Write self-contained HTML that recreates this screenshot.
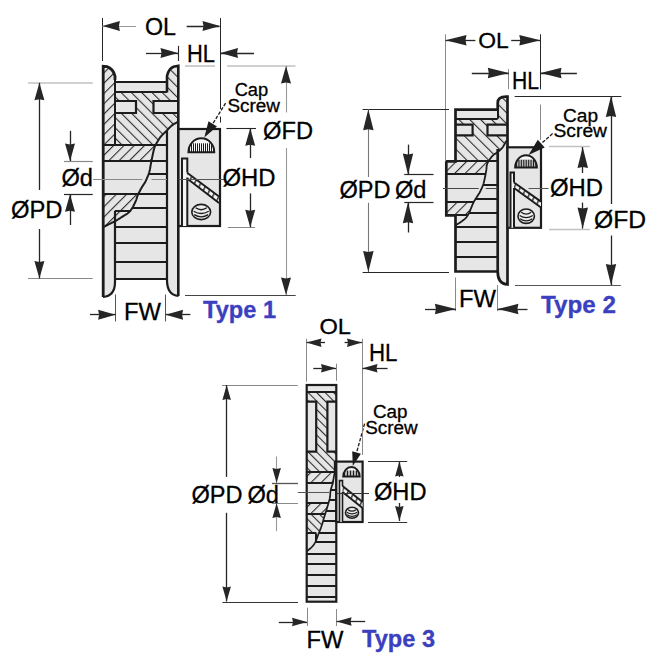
<!DOCTYPE html>
<html><head><meta charset="utf-8"><style>
html,body{margin:0;padding:0;background:#fff;width:670px;height:670px;overflow:hidden}
svg{display:block}
</style></head><body>
<svg width="670" height="670" viewBox="0 0 670 670" style='font-family:"Liberation Sans",sans-serif'>
<defs>
<pattern id="h45_1" width="7.28" height="7.28" patternUnits="userSpaceOnUse" patternTransform="translate(1.0,0) rotate(45)"><rect width="7.28" height="7.28" fill="#e6e6e6"/><line x1="0.5" y1="0" x2="0.5" y2="7.28" stroke="#2a2a2a" stroke-width="1.15"/></pattern>
<pattern id="h135_1" width="7.28" height="7.28" patternUnits="userSpaceOnUse" patternTransform="translate(-3.1,0) rotate(-45)"><rect width="7.28" height="7.28" fill="#e6e6e6"/><line x1="0.5" y1="0" x2="0.5" y2="7.28" stroke="#2a2a2a" stroke-width="1.15"/></pattern>
<pattern id="h45_2" width="7.35" height="7.35" patternUnits="userSpaceOnUse" patternTransform="translate(3.7,0) rotate(45)"><rect width="7.35" height="7.35" fill="#e6e6e6"/><line x1="0.5" y1="0" x2="0.5" y2="7.35" stroke="#2a2a2a" stroke-width="1.15"/></pattern>
<pattern id="h135_2" width="7.7" height="7.7" patternUnits="userSpaceOnUse" patternTransform="translate(1.0,0) rotate(-45)"><rect width="7.7" height="7.7" fill="#e6e6e6"/><line x1="0.5" y1="0" x2="0.5" y2="7.7" stroke="#2a2a2a" stroke-width="1.15"/></pattern>
<pattern id="h45_3" width="7.28" height="7.28" patternUnits="userSpaceOnUse" patternTransform="translate(0,0) rotate(45)"><rect width="7.28" height="7.28" fill="#e6e6e6"/><line x1="0.5" y1="0" x2="0.5" y2="7.28" stroke="#2a2a2a" stroke-width="1.15"/></pattern>
<pattern id="h135_3" width="6.0" height="6.0" patternUnits="userSpaceOnUse" patternTransform="translate(-0.3,0) rotate(-45)"><rect width="6.0" height="6.0" fill="#e6e6e6"/><line x1="0.5" y1="0" x2="0.5" y2="6.0" stroke="#2a2a2a" stroke-width="1.15"/></pattern>
<pattern id="hb" width="5.5" height="5.5" patternUnits="userSpaceOnUse" patternTransform="rotate(25)"><line x1="0.8" y1="0" x2="0.8" y2="5.5" stroke="#2a2a2a" stroke-width="1.4"/></pattern>
</defs>
<path d="M103,297 L103,66.3 L107,66.6 Q113,68.5 115,76 L115,82 L167,82 L167,76 Q168.5,69 173.5,66.8 L178.3,65.8 L178.5,129 L220,129 L220,226 L178.5,226 L178.5,296 Q167,295 167,280 L115,280 Q115,296 103,297 Z" fill="#e6e6e6" stroke="none" stroke-width="2.2" />
<path d="M103,66.3 L107,66.6 Q113,68.5 115,76 L115,144.6 L155.75,144.60 L155.51,145.08 L155.19,145.74 L154.89,146.45 L154.60,147.20 L154.33,148.00 L154.09,148.83 L153.86,149.69 L153.64,150.57 L153.44,151.49 L153.23,152.44 L153.02,153.41 L152.80,154.40 L152.58,155.43 L152.35,156.50 L152.12,157.61 L151.90,158.74 L151.68,159.88 L151.45,161.03 L151.40,161.30 L103,161.3 Z" fill="url(#h45_1)" stroke="none"/>
<path d="M103,194 L138.32,194.00 L137.96,194.79 L137.60,195.60 L137.30,196.34 L137.07,197.01 L136.87,197.64 L136.70,198.25 L136.53,198.86 L136.33,199.49 L136.10,200.16 L135.80,200.90 L135.44,201.73 L135.03,202.63 L134.58,203.58 L134.11,204.55 L133.63,205.51 L133.14,206.45 L132.66,207.32 L132.20,208.10 L131.76,208.80 L131.34,209.44 L130.92,210.03 L130.51,210.58 L130.07,211.10 L129.62,211.61 L129.13,212.10 L128.60,212.60 L128.03,213.08 L127.44,213.52 L126.82,213.94 L126.17,214.35 L125.50,214.76 L124.80,215.18 L124.07,215.62 L123.30,216.10 L122.49,216.62 L121.63,217.18 L120.73,217.75 L119.81,218.34 L118.88,218.93 L117.94,219.51 L117.01,220.07 L116.10,220.60 L115.20,221.10 L114.29,221.58 L113.37,222.04 L112.46,222.49 L111.56,222.93 L110.68,223.36 L109.82,223.78 L109.00,224.20 L108.17,224.62 L107.32,225.06 L106.47,225.50 L105.66,225.92 L104.89,226.32 L104.21,226.67 L103.64,226.97 L103.20,227.20 Z" fill="url(#h45_1)" stroke="none"/>
<path d="M115,92.5 L167,92.5 L167,76 Q168.5,69 173.5,66.8 L178.3,65.8 L178.50,120.50 L178.41,120.62 L178.32,120.76 L178.22,120.93 L178.09,121.13 L177.91,121.36 L177.68,121.61 L177.38,121.89 L177.00,122.20 L176.51,122.54 L175.92,122.90 L175.26,123.30 L174.54,123.72 L173.80,124.17 L173.04,124.65 L172.30,125.16 L171.60,125.70 L170.92,126.28 L170.25,126.92 L169.57,127.59 L168.89,128.28 L168.22,128.99 L167.54,129.71 L166.87,130.41 L166.20,131.10 L165.52,131.78 L164.83,132.45 L164.13,133.12 L163.44,133.80 L162.76,134.47 L162.10,135.15 L161.48,135.82 L160.90,136.50 L160.36,137.18 L159.86,137.85 L159.39,138.53 L158.94,139.21 L158.51,139.88 L158.10,140.56 L157.70,141.23 L157.30,141.90 L156.91,142.55 L156.54,143.19 L156.18,143.81 L155.84,144.44 L155.75,144.60 L115,144.6 Z" fill="url(#h135_1)" stroke="none"/>
<rect x="115" y="101" width="21" height="12" fill="#e6e6e6" stroke="none" stroke-width="0"/>
<rect x="153.5" y="101" width="25" height="12" fill="#e6e6e6" stroke="none" stroke-width="0"/>
<path d="M103.2,297 L103.2,66.3 L107,66.6 Q113,68.5 115,76 L115,80" fill="none" stroke="#1c1c1c" stroke-width="2.8" />
<line x1="115.0" y1="80" x2="115.0" y2="144.6" stroke="#1c1c1c" stroke-width="2"/>
<path d="M115,210.8 L115,282 Q115,296 103,297" fill="none" stroke="#1c1c1c" stroke-width="2.2" />
<path d="M178.3,296 L178.3,65.8 L173.5,66.8 Q168.5,69 167,76 L167,92.5" fill="none" stroke="#1c1c1c" stroke-width="2.6" />
<path d="M167,131 L167,280 Q167,295 178.5,296" fill="none" stroke="#1c1c1c" stroke-width="2.2" />
<line x1="115" y1="82.0" x2="167" y2="82.0" stroke="#1c1c1c" stroke-width="2.0"/>
<line x1="115" y1="92.0" x2="167" y2="92.0" stroke="#1c1c1c" stroke-width="2.0"/>
<path d="M115,101 H136 V113 H115" fill="none" stroke="#1c1c1c" stroke-width="2.2" />
<path d="M178.5,101 H153.5 V113 H178.5" fill="none" stroke="#1c1c1c" stroke-width="2.2" />
<line x1="103" y1="145.0" x2="167" y2="145.0" stroke="#1c1c1c" stroke-width="2.0"/>
<line x1="103" y1="161.0" x2="167" y2="161.0" stroke="#1c1c1c" stroke-width="2.0"/>
<line x1="103" y1="194.0" x2="167" y2="194.0" stroke="#1c1c1c" stroke-width="2.0"/>
<line x1="115" y1="211.0" x2="130.32572101922713" y2="211.0" stroke="#1c1c1c" stroke-width="2.0"/>
<line x1="132.074486229554" y1="208.0" x2="167" y2="208.0" stroke="#1c1c1c" stroke-width="2.0"/>
<line x1="148.53957674726587" y1="174.0" x2="167" y2="174.0" stroke="#1c1c1c" stroke-width="2.0"/>
<line x1="115" y1="227.0" x2="167" y2="227.0" stroke="#1c1c1c" stroke-width="2.0"/>
<line x1="115" y1="243.0" x2="167" y2="243.0" stroke="#1c1c1c" stroke-width="2.0"/>
<line x1="115" y1="262.0" x2="167" y2="262.0" stroke="#1c1c1c" stroke-width="2.0"/>
<line x1="115" y1="279.0" x2="167" y2="279.0" stroke="#1c1c1c" stroke-width="2.0"/>
<path d="M178.50,120.50 L178.41,120.62 L178.32,120.76 L178.22,120.93 L178.09,121.13 L177.91,121.36 L177.68,121.61 L177.38,121.89 L177.00,122.20 L176.51,122.54 L175.92,122.90 L175.26,123.30 L174.54,123.72 L173.80,124.17 L173.04,124.65 L172.30,125.16 L171.60,125.70 L170.92,126.28 L170.25,126.92 L169.57,127.59 L168.89,128.28 L168.22,128.99 L167.54,129.71 L166.87,130.41 L166.20,131.10 L165.52,131.78 L164.83,132.45 L164.13,133.12 L163.44,133.80 L162.76,134.47 L162.10,135.15 L161.48,135.82 L160.90,136.50 L160.36,137.18 L159.86,137.85 L159.39,138.53 L158.94,139.21 L158.51,139.88 L158.10,140.56 L157.70,141.23 L157.30,141.90 L156.91,142.55 L156.54,143.19 L156.18,143.81 L155.84,144.44 L155.51,145.08 L155.19,145.74 L154.89,146.45 L154.60,147.20 L154.33,148.00 L154.09,148.83 L153.86,149.69 L153.64,150.57 L153.44,151.49 L153.23,152.44 L153.02,153.41 L152.80,154.40 L152.58,155.43 L152.35,156.50 L152.12,157.61 L151.90,158.74 L151.68,159.88 L151.45,161.03 L151.23,162.17 L151.00,163.30 L150.79,164.42 L150.59,165.55 L150.40,166.67 L150.21,167.80 L150.01,168.93 L149.78,170.05 L149.51,171.18 L149.20,172.30 L148.84,173.43 L148.45,174.57 L148.02,175.72 L147.56,176.86 L147.09,177.99 L146.60,179.10 L146.10,180.17 L145.60,181.20 L145.08,182.18 L144.54,183.12 L143.97,184.02 L143.40,184.91 L142.83,185.77 L142.26,186.64 L141.72,187.51 L141.20,188.40 L140.70,189.31 L140.20,190.24 L139.71,191.18 L139.24,192.12 L138.78,193.04 L138.35,193.93 L137.96,194.79 L137.60,195.60 L137.30,196.34 L137.07,197.01 L136.87,197.64 L136.70,198.25 L136.53,198.86 L136.33,199.49 L136.10,200.16 L135.80,200.90 L135.44,201.73 L135.03,202.63 L134.58,203.58 L134.11,204.55 L133.63,205.51 L133.14,206.45 L132.66,207.32 L132.20,208.10 L131.76,208.80 L131.34,209.44 L130.92,210.03 L130.51,210.58 L130.07,211.10 L129.62,211.61 L129.13,212.10 L128.60,212.60 L128.03,213.08 L127.44,213.52 L126.82,213.94 L126.17,214.35 L125.50,214.76 L124.80,215.18 L124.07,215.62 L123.30,216.10 L122.49,216.62 L121.63,217.18 L120.73,217.75 L119.81,218.34 L118.88,218.93 L117.94,219.51 L117.01,220.07 L116.10,220.60 L115.20,221.10 L114.29,221.58 L113.37,222.04 L112.46,222.49 L111.56,222.93 L110.68,223.36 L109.82,223.78 L109.00,224.20 L108.17,224.62 L107.32,225.06 L106.47,225.50 L105.66,225.92 L104.89,226.32 L104.21,226.67 L103.64,226.97 L103.20,227.20" fill="none" stroke="#1c1c1c" stroke-width="2.0" />
<line x1="93" y1="179.5" x2="142.5041611662418" y2="179.5" stroke="#8a8a8a" stroke-width="1"/>
<line x1="151.5041611662418" y1="179.5" x2="167" y2="179.5" stroke="#8a8a8a" stroke-width="1"/>
<rect x="178.5" y="129" width="41.5" height="97" fill="#e6e6e6" stroke="#1c1c1c" stroke-width="2.2"/>
<path d="M188.4,152.2 A12.95,13.899999999999977 0 0 1 214.29999999999998,152.2 Z" fill="#f6f6f6" stroke="#1c1c1c" stroke-width="1.9"/>
<clipPath id="cp201"><path d="M188.4,152.2 A12.95,13.899999999999977 0 0 1 214.29999999999998,152.2 Z"/></clipPath>
<path d="M189.50,152.2 V143.30M191.50,152.2 V143.30M193.50,152.2 V143.30M195.50,152.2 V143.30M197.50,152.2 V143.30M199.50,152.2 V143.30M201.50,152.2 V143.30M203.50,152.2 V143.30M205.50,152.2 V143.30M207.50,152.2 V143.30M209.50,152.2 V143.30M211.50,152.2 V143.30M213.50,152.2 V143.30" stroke="#1c1c1c" stroke-width="1.0" clip-path="url(#cp201)"/>
<rect x="182" y="158.6" width="5.3" height="67.4" fill="#f3f3f3"/>
<path d="M187.1,172.8 L219,196.6 L219,203 L187.1,178.6 Z" fill="#f2f2f2" stroke="none"/>
<path d="M187.1,172.8 L219,196.6 L219,203 L187.1,178.6 Z" fill="url(#hb)" stroke="none"/>
<path d="M187.1,172.8 L219,196.6 M187.1,178.6 L219,203" stroke="#1c1c1c" stroke-width="1.9"/>
<path d="M182,226 V158.6 H187.3 V172.4 M187.3,177.6 V226" fill="none" stroke="#1c1c1c" stroke-width="2" />
<line x1="93" y1="179.5" x2="141" y2="179.5" stroke="#8a8a8a" stroke-width="1"/>
<ellipse cx="201.2" cy="212" rx="9.4" ry="7.6" fill="#ededed" stroke="#1c1c1c" stroke-width="1.6"/>
<path d="M193.67999999999998,211.24 Q201.2,215.8 208.72,211.24" fill="none" stroke="#1c1c1c" stroke-width="1.3"/>
<path d="M194.14999999999998,214.66 Q201.2,219.22 208.25,214.66" fill="none" stroke="#1c1c1c" stroke-width="1.3"/>
<path d="M195.56,207.82 Q201.2,211.62 206.83999999999997,207.82" fill="none" stroke="#1c1c1c" stroke-width="1.3"/>
<line x1="178.5" y1="179.5" x2="224" y2="179.5" stroke="#555" stroke-width="1"/>
<line x1="225.6" y1="103.2" x2="212.7" y2="123.9" stroke="#1c1c1c" stroke-width="1.3" stroke-dasharray="3.5,1.5"/>
<polygon points="204.3,137.5 208.5,121.3 217.0,126.5" fill="#1c1c1c"/>
<line x1="102.5" y1="18" x2="102.5" y2="61" stroke="#262626" stroke-width="1"/>
<line x1="220.5" y1="18" x2="220.5" y2="109" stroke="#262626" stroke-width="1"/>
<line x1="220.5" y1="116.6" x2="220.5" y2="122.6" stroke="#262626" stroke-width="1"/>
<line x1="102.4" y1="26.5" x2="136" y2="26.5" stroke="#999" stroke-width="1.2"/>
<polygon points="102.4,26.0 119.9,21.0 118.9,26.0 119.9,31.0" fill="#262626"/>
<line x1="186.7" y1="26.5" x2="219.5" y2="26.5" stroke="#262626" stroke-width="1.3"/>
<polygon points="220.0,26.0 202.5,21.0 203.5,26.0 202.5,31.0" fill="#262626"/>
<text x="145" y="34.5" font-size="23" fill="#000" stroke="#000" stroke-width="0.3" textLength="31" lengthAdjust="spacingAndGlyphs">OL</text>
<line x1="178.5" y1="45.8" x2="178.5" y2="61" stroke="#262626" stroke-width="1.1"/>
<line x1="146" y1="53.5" x2="178" y2="53.5" stroke="#262626" stroke-width="1.3"/>
<polygon points="178.0,53.0 160.5,48.0 161.5,53.0 160.5,58.0" fill="#262626"/>
<line x1="220.5" y1="53.5" x2="254" y2="53.5" stroke="#262626" stroke-width="1.3"/>
<polygon points="220.5,53.0 238.0,48.0 237.0,53.0 238.0,58.0" fill="#262626"/>
<text x="187" y="61.5" font-size="23" fill="#000" stroke="#000" stroke-width="0.3" textLength="28" lengthAdjust="spacingAndGlyphs">HL</text>
<line x1="185" y1="66.0" x2="215" y2="66.0" stroke="#c2c2c2" stroke-width="1.6"/>
<line x1="227" y1="66.0" x2="295.5" y2="66.0" stroke="#c2c2c2" stroke-width="1.6"/>
<line x1="286.5" y1="66" x2="286.5" y2="112.5" stroke="#9a9a9a" stroke-width="1.1"/>
<line x1="286.5" y1="148" x2="286.5" y2="295" stroke="#9a9a9a" stroke-width="1.1"/>
<polygon points="286.0,66.0 281.0,83.5 286.0,82.5 291.0,83.5" fill="#262626"/>
<polygon points="286.0,295.0 281.0,277.5 286.0,278.5 291.0,277.5" fill="#262626"/>
<line x1="185" y1="295.5" x2="295.7" y2="295.5" stroke="#444" stroke-width="1.1"/>
<text x="263" y="138.5" font-size="23" fill="#000" stroke="#000" stroke-width="0.3" textLength="50" lengthAdjust="spacingAndGlyphs">ØFD</text>
<line x1="226.4" y1="128.5" x2="256" y2="128.5" stroke="#262626" stroke-width="1.1"/>
<line x1="227.8" y1="227.5" x2="255" y2="227.5" stroke="#8a8a8a" stroke-width="1"/>
<line x1="250.5" y1="128.3" x2="250.5" y2="158" stroke="#262626" stroke-width="1.3"/>
<line x1="250.5" y1="193.4" x2="250.5" y2="227.3" stroke="#262626" stroke-width="1.3"/>
<polygon points="250.2,128.3 245.2,145.8 250.2,144.8 255.2,145.8" fill="#262626"/>
<polygon points="250.2,227.3 245.2,209.8 250.2,210.8 255.2,209.8" fill="#262626"/>
<text x="222.5" y="185.5" font-size="23" fill="#000" stroke="#000" stroke-width="0.3" textLength="53" lengthAdjust="spacingAndGlyphs">ØHD</text>
<text x="234.7" y="96" font-size="18" fill="#000" stroke="#000" stroke-width="0.3" textLength="33.5" lengthAdjust="spacingAndGlyphs">Cap</text>
<text x="227.5" y="111.5" font-size="18" fill="#000" stroke="#000" stroke-width="0.3" textLength="52.5" lengthAdjust="spacingAndGlyphs">Screw</text>
<line x1="28" y1="83.0" x2="92.8" y2="83.0" stroke="#c2c2c2" stroke-width="1.6"/>
<line x1="28" y1="278.5" x2="92.7" y2="278.5" stroke="#8a8a8a" stroke-width="1"/>
<line x1="39.5" y1="82.8" x2="39.5" y2="190" stroke="#262626" stroke-width="1.3"/>
<line x1="39.5" y1="229" x2="39.5" y2="278.4" stroke="#262626" stroke-width="1.3"/>
<polygon points="39.4,82.8 34.4,100.3 39.4,99.3 44.4,100.3" fill="#262626"/>
<polygon points="39.4,278.4 34.4,260.9 39.4,261.9 44.4,260.9" fill="#262626"/>
<text x="11" y="217.6" font-size="23" fill="#000" stroke="#000" stroke-width="0.3" textLength="51.5" lengthAdjust="spacingAndGlyphs">ØPD</text>
<line x1="64" y1="161.5" x2="92.8" y2="161.5" stroke="#8a8a8a" stroke-width="1.2"/>
<line x1="64" y1="194.5" x2="92.7" y2="194.5" stroke="#262626" stroke-width="1.2"/>
<line x1="70.5" y1="130.8" x2="70.5" y2="161" stroke="#262626" stroke-width="1.3"/>
<polygon points="70.0,161.0 65.0,143.5 70.0,144.5 75.0,143.5" fill="#262626"/>
<line x1="70.5" y1="194.3" x2="70.5" y2="225" stroke="#262626" stroke-width="1.3"/>
<polygon points="70.0,194.3 65.0,211.8 70.0,210.8 75.0,211.8" fill="#262626"/>
<text x="61.5" y="186.2" font-size="23" fill="#000" stroke="#000" stroke-width="0.3" textLength="31.5" lengthAdjust="spacingAndGlyphs">Ød</text>
<line x1="115.5" y1="294.5" x2="115.5" y2="321.4" stroke="#555" stroke-width="1"/>
<line x1="165.5" y1="294.5" x2="165.5" y2="321.4" stroke="#555" stroke-width="1"/>
<line x1="90" y1="314.5" x2="115.6" y2="314.5" stroke="#262626" stroke-width="1.3"/>
<polygon points="115.6,314.7 98.1,309.7 99.1,314.7 98.1,319.7" fill="#262626"/>
<line x1="165.6" y1="314.5" x2="190.4" y2="314.5" stroke="#262626" stroke-width="1.3"/>
<polygon points="165.6,314.7 183.1,309.7 182.1,314.7 183.1,319.7" fill="#262626"/>
<text x="124" y="320" font-size="23" fill="#000" stroke="#000" stroke-width="0.3" textLength="37" lengthAdjust="spacingAndGlyphs">FW</text>
<text x="203" y="317.8" font-size="23" font-weight="bold" fill="#3b40bf" stroke="#3b40bf" stroke-width="0.3" textLength="73" lengthAdjust="spacingAndGlyphs">Type 1</text>
<path d="M455.5,109.7 L497.7,109.7 L497.7,103 Q497.7,96.6 506,96.6 L507.5,96.6 L507.5,147.3 L541,147.3 L541,227.8 L507.5,227.8 L507.5,284.5 Q497.7,284 497.7,271.5 L455.5,271.5 L455.5,215.5 L446.3,215.5 L446.3,161 L455.5,161 Z" fill="#e6e6e6" stroke="none" stroke-width="2.2" />
<path d="M455.5,118.7 L497.7,118.7 L497.7,103 Q497.7,96.6 506,96.6 L507.5,96.6 L507.50,140.50 L507.38,140.57 L507.23,140.64 L507.05,140.71 L506.84,140.81 L506.61,140.96 L506.36,141.16 L506.09,141.43 L505.80,141.80 L505.49,142.28 L505.16,142.88 L504.81,143.56 L504.44,144.29 L504.04,145.05 L503.62,145.80 L503.17,146.53 L502.70,147.20 L502.19,147.83 L501.64,148.46 L501.05,149.08 L500.45,149.69 L499.83,150.28 L499.21,150.85 L498.60,151.39 L498.00,151.90 L497.41,152.36 L496.81,152.77 L496.20,153.14 L495.60,153.50 L495.00,153.86 L494.42,154.23 L493.85,154.64 L493.30,155.10 L492.76,155.62 L492.23,156.17 L491.71,156.75 L491.21,157.36 L490.72,157.97 L490.25,158.59 L489.81,159.20 L489.40,159.80 L489.02,160.38 L488.66,160.94 L488.44,161.30 L455.5,161.3 Z" fill="url(#h135_2)" stroke="none"/>
<path d="M446.3,161.3 L488.44,161.30 L488.32,161.49 L488.01,162.05 L487.72,162.62 L487.45,163.21 L487.21,163.84 L487.00,164.50 L486.83,165.20 L486.70,165.93 L486.61,166.68 L486.54,167.46 L486.48,168.26 L486.41,169.08 L486.32,169.93 L486.20,170.80 L486.05,171.71 L485.88,172.68 L485.69,173.68 L485.65,173.90 L446.3,173.9 Z" fill="url(#h45_2)" stroke="none"/>
<path d="M446.3,202.1 L473.70,202.10 L473.70,202.10 L473.33,202.83 L472.99,203.53 L472.69,204.22 L472.40,204.90 L472.13,205.57 L471.86,206.24 L471.58,206.92 L471.30,207.60 L471.01,208.29 L470.74,208.99 L470.47,209.70 L470.19,210.40 L469.92,211.10 L469.63,211.78 L469.33,212.45 L469.00,213.10 L468.66,213.73 L468.32,214.35 L467.97,214.96 L467.69,215.40 L446.3,215.4 Z" fill="url(#h45_2)" stroke="none"/>
<rect x="455.5" y="124.6" width="17" height="10.8" fill="#e6e6e6" stroke="none" stroke-width="0"/>
<rect x="487.5" y="124.6" width="20" height="10.8" fill="#e6e6e6" stroke="none" stroke-width="0"/>
<path d="M446.3,161.3 H455.5 V109.7 H497.7 V103 Q497.7,96.6 506,96.6 L507.5,96.6 V284.5 Q497.7,284 497.7,271.5 V149" fill="none" stroke="#1c1c1c" stroke-width="2.7" />
<path d="M455.5,215.4 H446.3 V161.3" fill="none" stroke="#1c1c1c" stroke-width="2.7" />
<path d="M455.5,215.4 V271.5 H497.7" fill="none" stroke="#1c1c1c" stroke-width="2.7" />
<line x1="455.5" y1="119.0" x2="497.7" y2="119.0" stroke="#1c1c1c" stroke-width="2.0"/>
<line x1="498.0" y1="109.7" x2="498.0" y2="118.7" stroke="#1c1c1c" stroke-width="2.0"/>
<path d="M455.5,124.6 H472.6 V135.4 H455.5" fill="none" stroke="#1c1c1c" stroke-width="2.2" />
<path d="M507.5,124.6 H487.5 V135.4 H507.5" fill="none" stroke="#1c1c1c" stroke-width="2.2" />
<line x1="446.3" y1="161.0" x2="497.7" y2="161.0" stroke="#1c1c1c" stroke-width="2.0"/>
<line x1="446.3" y1="174.0" x2="485.6516580410198" y2="174.0" stroke="#1c1c1c" stroke-width="2.0"/>
<line x1="446.3" y1="202.0" x2="473.7" y2="202.0" stroke="#1c1c1c" stroke-width="2.0"/>
<line x1="446.3" y1="215.0" x2="467.6925657894737" y2="215.0" stroke="#1c1c1c" stroke-width="2.0"/>
<line x1="483.1" y1="185.0" x2="497.7" y2="185.0" stroke="#1c1c1c" stroke-width="2.0"/>
<line x1="475.5551696096655" y1="199.0" x2="497.7" y2="199.0" stroke="#1c1c1c" stroke-width="2.0"/>
<line x1="469.0" y1="213.0" x2="497.7" y2="213.0" stroke="#1c1c1c" stroke-width="2.0"/>
<line x1="455.5" y1="227.0" x2="497.7" y2="227.0" stroke="#1c1c1c" stroke-width="2.0"/>
<line x1="455.5" y1="242.0" x2="497.7" y2="242.0" stroke="#1c1c1c" stroke-width="2.0"/>
<line x1="455.5" y1="257.0" x2="497.7" y2="257.0" stroke="#1c1c1c" stroke-width="2.0"/>
<path d="M507.50,140.50 L507.38,140.57 L507.23,140.64 L507.05,140.71 L506.84,140.81 L506.61,140.96 L506.36,141.16 L506.09,141.43 L505.80,141.80 L505.49,142.28 L505.16,142.88 L504.81,143.56 L504.44,144.29 L504.04,145.05 L503.62,145.80 L503.17,146.53 L502.70,147.20 L502.19,147.83 L501.64,148.46 L501.05,149.08 L500.45,149.69 L499.83,150.28 L499.21,150.85 L498.60,151.39 L498.00,151.90 L497.41,152.36 L496.81,152.77 L496.20,153.14 L495.60,153.50 L495.00,153.86 L494.42,154.23 L493.85,154.64 L493.30,155.10 L492.76,155.62 L492.23,156.17 L491.71,156.75 L491.21,157.36 L490.72,157.97 L490.25,158.59 L489.81,159.20 L489.40,159.80 L489.02,160.38 L488.66,160.94 L488.32,161.49 L488.01,162.05 L487.72,162.62 L487.45,163.21 L487.21,163.84 L487.00,164.50 L486.83,165.20 L486.70,165.93 L486.61,166.68 L486.54,167.46 L486.48,168.26 L486.41,169.08 L486.32,169.93 L486.20,170.80 L486.05,171.71 L485.88,172.68 L485.69,173.68 L485.50,174.70 L485.30,175.72 L485.10,176.72 L484.90,177.69 L484.70,178.60 L484.52,179.45 L484.34,180.26 L484.17,181.04 L484.00,181.80 L483.81,182.55 L483.61,183.31 L483.37,184.09 L483.10,184.90 L482.78,185.76 L482.41,186.67 L482.02,187.61 L481.60,188.55 L481.18,189.47 L480.76,190.35 L480.36,191.17 L480.00,191.90 L479.68,192.52 L479.39,193.04 L479.11,193.48 L478.85,193.89 L478.58,194.30 L478.29,194.73 L477.97,195.22 L477.60,195.80 L477.17,196.48 L476.70,197.23 L476.18,198.02 L475.65,198.85 L475.12,199.69 L474.60,200.53 L474.13,201.33 L473.70,202.10 L473.33,202.83 L472.99,203.53 L472.69,204.22 L472.40,204.90 L472.13,205.57 L471.86,206.24 L471.58,206.92 L471.30,207.60 L471.01,208.29 L470.74,208.99 L470.47,209.70 L470.19,210.40 L469.92,211.10 L469.63,211.78 L469.33,212.45 L469.00,213.10 L468.66,213.73 L468.32,214.35 L467.97,214.96 L467.60,215.55 L467.21,216.13 L466.81,216.70 L466.37,217.26 L465.90,217.80 L465.40,218.33 L464.86,218.84 L464.30,219.34 L463.71,219.83 L463.11,220.30 L462.48,220.77 L461.85,221.24 L461.20,221.70 L460.50,222.18 L459.71,222.69 L458.89,223.20 L458.06,223.69 L457.26,224.16 L456.55,224.58 L455.95,224.93 L455.50,225.20" fill="none" stroke="#1c1c1c" stroke-width="1.8" />
<line x1="443" y1="188.5" x2="478.71079368377315" y2="188.5" stroke="#444" stroke-width="1"/>
<line x1="485.71079368377315" y1="188.5" x2="497.7" y2="188.5" stroke="#444" stroke-width="1"/>
<rect x="507.5" y="147.3" width="33.5" height="80.5" fill="#e6e6e6" stroke="#1c1c1c" stroke-width="2.2"/>
<path d="M515.1,167.5 A10.9,12.199999999999989 0 0 1 536.9,167.5 Z" fill="#f6f6f6" stroke="#1c1c1c" stroke-width="1.9"/>
<clipPath id="cp526"><path d="M515.1,167.5 A10.9,12.199999999999989 0 0 1 536.9,167.5 Z"/></clipPath>
<path d="M516.50,167.5 V159.69M518.20,167.5 V159.69M519.90,167.5 V159.69M521.60,167.5 V159.69M523.30,167.5 V159.69M525.00,167.5 V159.69M526.70,167.5 V159.69M528.40,167.5 V159.69M530.10,167.5 V159.69M531.80,167.5 V159.69M533.50,167.5 V159.69M535.20,167.5 V159.69" stroke="#1c1c1c" stroke-width="1.0" clip-path="url(#cp526)"/>
<rect x="510.5" y="172.4" width="3.5" height="55.4" fill="#f3f3f3"/>
<path d="M514,182.5 L541,201.6 L541,207.5 L514,188 Z" fill="#f2f2f2" stroke="none"/>
<path d="M514,182.5 L541,201.6 L541,207.5 L514,188 Z" fill="url(#hb)" stroke="none"/>
<path d="M514,182.5 L541,201.6 M514,188 L541,207.5" stroke="#1c1c1c" stroke-width="1.9"/>
<path d="M510.5,227.8 V172.4 H514 V182.5 M514,188 V227.8" fill="none" stroke="#1c1c1c" stroke-width="2" />
<ellipse cx="526.2" cy="216.2" rx="8.2" ry="7.2" fill="#ededed" stroke="#1c1c1c" stroke-width="1.6"/>
<path d="M519.6400000000001,215.48 Q526.2,219.79999999999998 532.76,215.48" fill="none" stroke="#1c1c1c" stroke-width="1.3"/>
<path d="M520.0500000000001,218.72 Q526.2,223.04 532.35,218.72" fill="none" stroke="#1c1c1c" stroke-width="1.3"/>
<path d="M521.2800000000001,212.23999999999998 Q526.2,215.83999999999997 531.12,212.23999999999998" fill="none" stroke="#1c1c1c" stroke-width="1.3"/>
<line x1="528.5" y1="188.5" x2="548.5" y2="188.5" stroke="#555" stroke-width="1"/>
<line x1="552.6" y1="133.6" x2="541.2" y2="143.6" stroke="#1c1c1c" stroke-width="1.3" stroke-dasharray="3.5,1.5"/>
<polygon points="528.5,154.9 537.8,139.7 544.7,147.6" fill="#1c1c1c"/>
<line x1="445.5" y1="34.3" x2="445.5" y2="161" stroke="#8a8a8a" stroke-width="1"/>
<line x1="540.5" y1="34.3" x2="540.5" y2="89.3" stroke="#262626" stroke-width="1"/>
<line x1="540.5" y1="104.5" x2="540.5" y2="140" stroke="#8a8a8a" stroke-width="1"/>
<line x1="445.5" y1="40.5" x2="475.4" y2="40.5" stroke="#262626" stroke-width="1.3"/>
<polygon points="445.5,40.3 466.5,35.0 465.5,40.3 466.5,45.5" fill="#262626"/>
<line x1="511.2" y1="40.5" x2="540.3" y2="40.5" stroke="#262626" stroke-width="1.3"/>
<polygon points="540.3,40.3 519.3,35.0 520.3,40.3 519.3,45.5" fill="#262626"/>
<text x="478.3" y="48.2" font-size="22.5" fill="#000" stroke="#000" stroke-width="0.3" textLength="30.5" lengthAdjust="spacingAndGlyphs">OL</text>
<line x1="508.5" y1="69" x2="508.5" y2="89.3" stroke="#8a8a8a" stroke-width="1"/>
<line x1="471.8" y1="73.5" x2="508.8" y2="73.5" stroke="#262626" stroke-width="1.3"/>
<polygon points="508.8,73.0 487.8,67.8 488.8,73.0 487.8,78.2" fill="#262626"/>
<line x1="540.5" y1="73.5" x2="576.9" y2="73.5" stroke="#262626" stroke-width="1.3"/>
<polygon points="540.5,73.0 561.5,67.8 560.5,73.0 561.5,78.2" fill="#262626"/>
<text x="512" y="89.3" font-size="23" fill="#000" stroke="#000" stroke-width="0.3" textLength="27" lengthAdjust="spacingAndGlyphs">HL</text>
<line x1="514.7" y1="96.5" x2="621.3" y2="96.5" stroke="#262626" stroke-width="1.2"/>
<line x1="515" y1="285.5" x2="620.8" y2="285.5" stroke="#555" stroke-width="1.1"/>
<line x1="611.5" y1="96" x2="611.5" y2="204" stroke="#262626" stroke-width="1.3"/>
<line x1="611.5" y1="235.5" x2="611.5" y2="285" stroke="#262626" stroke-width="1.3"/>
<polygon points="611.0,96.0 605.8,117.0 611.0,116.0 616.2,117.0" fill="#262626"/>
<polygon points="611.0,285.0 605.8,264.0 611.0,265.0 616.2,264.0" fill="#262626"/>
<text x="594" y="227.6" font-size="23" fill="#000" stroke="#000" stroke-width="0.3" textLength="52" lengthAdjust="spacingAndGlyphs">ØFD</text>
<line x1="549" y1="146.5" x2="590" y2="146.5" stroke="#c2c2c2" stroke-width="1.5"/>
<line x1="549" y1="229.5" x2="590" y2="229.5" stroke="#c2c2c2" stroke-width="1.5"/>
<line x1="582.5" y1="147" x2="582.5" y2="173" stroke="#262626" stroke-width="1.3"/>
<line x1="582.5" y1="202.6" x2="582.5" y2="228.6" stroke="#262626" stroke-width="1.3"/>
<polygon points="582.7,147.0 577.5,168.0 582.7,167.0 588.0,168.0" fill="#262626"/>
<polygon points="582.7,228.6 577.5,207.6 582.7,208.6 588.0,207.6" fill="#262626"/>
<text x="550" y="196.3" font-size="23" fill="#000" stroke="#000" stroke-width="0.3" textLength="53" lengthAdjust="spacingAndGlyphs">ØHD</text>
<text x="563" y="122" font-size="18" fill="#000" stroke="#000" stroke-width="0.3" textLength="35" lengthAdjust="spacingAndGlyphs">Cap</text>
<text x="553.5" y="136.7" font-size="18" fill="#000" stroke="#000" stroke-width="0.3" textLength="53.5" lengthAdjust="spacingAndGlyphs">Screw</text>
<line x1="362.6" y1="109.5" x2="449" y2="109.5" stroke="#262626" stroke-width="1.2"/>
<line x1="362.6" y1="272.5" x2="449" y2="272.5" stroke="#262626" stroke-width="1.2"/>
<line x1="368.5" y1="109.2" x2="368.5" y2="177" stroke="#777" stroke-width="1.1"/>
<line x1="368.5" y1="202.8" x2="368.5" y2="272" stroke="#777" stroke-width="1.1"/>
<polygon points="368.3,109.2 363.1,130.2 368.3,129.2 373.6,130.2" fill="#262626"/>
<polygon points="368.3,272.0 363.1,251.0 368.3,252.0 373.6,251.0" fill="#262626"/>
<text x="339.5" y="197.7" font-size="23" fill="#000" stroke="#000" stroke-width="0.3" textLength="51" lengthAdjust="spacingAndGlyphs">ØPD</text>
<line x1="404.3" y1="174.5" x2="433.5" y2="174.5" stroke="#262626" stroke-width="1.2"/>
<line x1="404.3" y1="202.5" x2="433.5" y2="202.5" stroke="#262626" stroke-width="1.2"/>
<line x1="408.5" y1="144.6" x2="408.5" y2="174.4" stroke="#262626" stroke-width="1.3"/>
<polygon points="408.0,174.4 402.8,153.4 408.0,154.4 413.2,153.4" fill="#262626"/>
<line x1="408.5" y1="202.2" x2="408.5" y2="232.5" stroke="#262626" stroke-width="1.3"/>
<polygon points="408.0,202.2 402.8,223.2 408.0,222.2 413.2,223.2" fill="#262626"/>
<text x="395" y="197.7" font-size="23" fill="#000" stroke="#000" stroke-width="0.3" textLength="31.5" lengthAdjust="spacingAndGlyphs">Ød</text>
<line x1="455.5" y1="277.5" x2="455.5" y2="311" stroke="#8a8a8a" stroke-width="1"/>
<line x1="497.5" y1="285" x2="497.5" y2="311" stroke="#8a8a8a" stroke-width="1"/>
<line x1="425" y1="309.5" x2="455.9" y2="309.5" stroke="#262626" stroke-width="1.3"/>
<polygon points="455.9,309.0 434.9,303.8 435.9,309.0 434.9,314.2" fill="#262626"/>
<line x1="497.4" y1="309.5" x2="527.5" y2="309.5" stroke="#262626" stroke-width="1.3"/>
<polygon points="497.4,309.0 518.4,303.8 517.4,309.0 518.4,314.2" fill="#262626"/>
<text x="459" y="307.3" font-size="23" fill="#000" stroke="#000" stroke-width="0.3" textLength="37" lengthAdjust="spacingAndGlyphs">FW</text>
<text x="541" y="312.8" font-size="23" font-weight="bold" fill="#3b40bf" stroke="#3b40bf" stroke-width="0.3" textLength="75" lengthAdjust="spacingAndGlyphs">Type 2</text>
<path d="M306.7,385 H336.3 V461.6 H362.6 V522 H336.3 V601.7 H306.7 Z" fill="#e6e6e6" stroke="none" stroke-width="2.2" />
<path d="M306.7,391.5 H336.3 V461.6 H334.7 V472.3 H306.7 Z" fill="url(#h135_3)" stroke="none"/>
<path d="M306.7,472.3 L334.70,472.30 L334.60,472.83 L334.47,473.56 L334.32,474.43 L334.14,475.38 L333.97,476.37 L333.79,477.34 L333.63,478.23 L333.50,479.00 L333.39,479.65 L333.31,480.23 L333.24,480.76 L333.17,481.26 L333.11,481.75 L333.03,482.24 L332.93,482.75 L332.80,483.30 L332.80,483.30 H306.7 Z" fill="url(#h45_3)" stroke="none"/>
<path d="M306.7,502.6 L328.63,502.60 L328.55,502.89 L328.27,503.87 L327.96,504.91 L327.63,506.00 L327.29,507.12 L326.96,508.23 L326.62,509.34 L326.30,510.40 L325.99,511.43 L325.68,512.46 L325.36,513.49 L325.33,513.60 H306.7 Z" fill="url(#h45_3)" stroke="none"/>
<path d="M306.7,513.6 L325.33,513.60 L325.05,514.51 L324.74,515.53 L324.43,516.55 L324.11,517.58 L323.80,518.60 L323.49,519.62 L323.19,520.65 L322.89,521.68 L322.59,522.70 L322.29,523.73 L321.97,524.75 L321.65,525.77 L321.30,526.80 L320.93,527.84 L320.53,528.89 L320.12,529.95 L319.70,531.00 L319.28,532.04 L318.87,533.06 L318.47,534.05 L318.10,535.00 L317.76,535.91 L317.44,536.80 L317.15,537.67 L316.86,538.51 L316.57,539.32 L316.26,540.11 L315.95,540.87 L315.60,541.60 L315.24,542.29 L314.89,542.94 L314.52,543.56 L314.14,544.16 L313.74,544.74 L313.31,545.31 L312.83,545.90 L312.30,546.50 L311.67,547.15 L310.93,547.84 L310.12,548.55 L309.29,549.26 L308.49,549.92 L307.76,550.52 L307.15,551.02 L306.70,551.40 Z" fill="url(#h135_3)" stroke="none"/>
<path d="M306.7,533.4 H316.4 L318.73,533.40 L318.47,534.05 L318.10,535.00 L317.76,535.91 L317.44,536.80 L317.15,537.67 L316.86,538.51 L316.57,539.32 L316.26,540.11 L315.95,540.87 L315.60,541.60 L315.24,542.29 L314.89,542.94 L314.52,543.56 L314.14,544.16 L313.74,544.74 L313.31,545.31 L312.83,545.90 L312.30,546.50 L311.67,547.15 L310.93,547.84 L310.12,548.55 L309.29,549.26 L308.49,549.92 L307.76,550.52 L307.15,551.02 L306.70,551.40 Z" fill="#e6e6e6"/>
<rect x="306.7" y="401.6" width="9.6" height="50.1" fill="#e6e6e6" stroke="none" stroke-width="0"/>
<rect x="327.4" y="401.6" width="8.9" height="50.1" fill="#e6e6e6" stroke="none" stroke-width="0"/>
<rect x="306.7" y="385" width="29.6" height="216.7" fill="none" stroke="#1c1c1c" stroke-width="2.2"/>
<line x1="306.7" y1="392.0" x2="336.3" y2="392.0" stroke="#1c1c1c" stroke-width="2.0"/>
<path d="M306.7,401.6 H316.2 V451.7 H306.7" fill="none" stroke="#1c1c1c" stroke-width="2.2" />
<path d="M336.3,401.6 H327.4 V451.7 H336.3" fill="none" stroke="#1c1c1c" stroke-width="2.2" />
<line x1="306.7" y1="472.0" x2="334.7" y2="472.0" stroke="#1c1c1c" stroke-width="2.0"/>
<line x1="306.7" y1="483.0" x2="332.8" y2="483.0" stroke="#1c1c1c" stroke-width="2.0"/>
<line x1="306.7" y1="503.0" x2="328.631010989011" y2="503.0" stroke="#1c1c1c" stroke-width="2.0"/>
<line x1="306.7" y1="514.0" x2="325.3287855642543" y2="514.0" stroke="#1c1c1c" stroke-width="2.0"/>
<line x1="330.70348220207825" y1="490.0" x2="336.3" y2="490.0" stroke="#1c1c1c" stroke-width="2.0"/>
<line x1="329.3471239618579" y1="500.0" x2="336.3" y2="500.0" stroke="#1c1c1c" stroke-width="2.0"/>
<line x1="326.08855956201626" y1="511.0" x2="336.3" y2="511.0" stroke="#1c1c1c" stroke-width="2.0"/>
<line x1="323.08960080030494" y1="521.0" x2="336.3" y2="521.0" stroke="#1c1c1c" stroke-width="2.0"/>
<line x1="318.81214948657185" y1="533.0" x2="336.3" y2="533.0" stroke="#1c1c1c" stroke-width="2.0"/>
<line x1="315.2381345677623" y1="542.0" x2="336.3" y2="542.0" stroke="#1c1c1c" stroke-width="2.0"/>
<line x1="306.7" y1="554.0" x2="336.3" y2="554.0" stroke="#1c1c1c" stroke-width="2.0"/>
<line x1="306.7" y1="533.0" x2="316.4" y2="533.0" stroke="#1c1c1c" stroke-width="2.0"/>
<line x1="316.0" y1="533.4" x2="316.0" y2="541" stroke="#1c1c1c" stroke-width="2.0"/>
<line x1="306.7" y1="564.0" x2="336.3" y2="564.0" stroke="#1c1c1c" stroke-width="2.0"/>
<line x1="306.7" y1="575.0" x2="336.3" y2="575.0" stroke="#1c1c1c" stroke-width="2.0"/>
<line x1="306.7" y1="586.0" x2="336.3" y2="586.0" stroke="#1c1c1c" stroke-width="2.0"/>
<line x1="306.7" y1="597.0" x2="336.3" y2="597.0" stroke="#1c1c1c" stroke-width="2.0"/>
<path d="M336.3,461.6 H334.7 V472.3 L334.70,472.30 L334.60,472.83 L334.47,473.56 L334.32,474.43 L334.14,475.38 L333.97,476.37 L333.79,477.34 L333.63,478.23 L333.50,479.00 L333.39,479.65 L333.31,480.23 L333.24,480.76 L333.17,481.26 L333.11,481.75 L333.03,482.24 L332.93,482.75 L332.80,483.30 L332.64,483.89 L332.44,484.51 L332.23,485.14 L332.01,485.78 L331.78,486.42 L331.56,487.04 L331.37,487.64 L331.20,488.20 L331.06,488.72 L330.93,489.20 L330.82,489.65 L330.72,490.09 L330.64,490.54 L330.55,490.99 L330.48,491.48 L330.40,492.00 L330.34,492.57 L330.29,493.17 L330.26,493.79 L330.22,494.43 L330.19,495.07 L330.15,495.72 L330.09,496.37 L330.00,497.00 L329.90,497.60 L329.79,498.17 L329.67,498.73 L329.53,499.29 L329.38,499.88 L329.21,500.51 L329.02,501.21 L328.80,502.00 L328.55,502.89 L328.27,503.87 L327.96,504.91 L327.63,506.00 L327.29,507.12 L326.96,508.23 L326.62,509.34 L326.30,510.40 L325.99,511.43 L325.68,512.46 L325.36,513.49 L325.05,514.51 L324.74,515.53 L324.43,516.55 L324.11,517.58 L323.80,518.60 L323.49,519.62 L323.19,520.65 L322.89,521.68 L322.59,522.70 L322.29,523.73 L321.97,524.75 L321.65,525.77 L321.30,526.80 L320.93,527.84 L320.53,528.89 L320.12,529.95 L319.70,531.00 L319.28,532.04 L318.87,533.06 L318.47,534.05 L318.10,535.00 L317.76,535.91 L317.44,536.80 L317.15,537.67 L316.86,538.51 L316.57,539.32 L316.26,540.11 L315.95,540.87 L315.60,541.60 L315.24,542.29 L314.89,542.94 L314.52,543.56 L314.14,544.16 L313.74,544.74 L313.31,545.31 L312.83,545.90 L312.30,546.50 L311.67,547.15 L310.93,547.84 L310.12,548.55 L309.29,549.26 L308.49,549.92 L307.76,550.52 L307.15,551.02 L306.70,551.40" fill="none" stroke="#1c1c1c" stroke-width="1.7" />
<line x1="297.8" y1="492.5" x2="329.3439091534755" y2="492.5" stroke="#555" stroke-width="1"/>
<rect x="336.3" y="461.6" width="26.3" height="60.4" fill="#e6e6e6" stroke="#1c1c1c" stroke-width="2.2"/>
<path d="M343.2,476.5 A8.25,9.5 0 0 1 359.7,476.5 Z" fill="#f6f6f6" stroke="#1c1c1c" stroke-width="1.9"/>
<clipPath id="cp351"><path d="M343.2,476.5 A8.25,9.5 0 0 1 359.7,476.5 Z"/></clipPath>
<path d="M344.50,476.5 V470.42M347.50,476.5 V470.42M350.50,476.5 V470.42M353.50,476.5 V470.42M356.50,476.5 V470.42M359.50,476.5 V470.42" stroke="#1c1c1c" stroke-width="1.6" clip-path="url(#cp351)"/>
<rect x="339.5" y="480.6" width="3" height="41.4" fill="#f3f3f3"/>
<path d="M342.5,486 L362.6,502 L362.6,508 L342.5,492 Z" fill="#f2f2f2" stroke="none"/>
<path d="M342.5,486 L362.6,502 L362.6,508 L342.5,492 Z" fill="url(#hb)" stroke="none"/>
<path d="M342.5,486 L362.6,502 M342.5,492 L362.6,508" stroke="#1c1c1c" stroke-width="1.9"/>
<path d="M339.5,522 V480.6 H342.5 V486 M342.5,492 V522" fill="none" stroke="#1c1c1c" stroke-width="1.6" />
<ellipse cx="352" cy="512.8" rx="6.5" ry="5.5" fill="#ededed" stroke="#1c1c1c" stroke-width="1.6"/>
<path d="M346.8,512.25 Q352,515.55 357.2,512.25" fill="none" stroke="#1c1c1c" stroke-width="1.3"/>
<path d="M347.125,514.7249999999999 Q352,518.025 356.875,514.7249999999999" fill="none" stroke="#1c1c1c" stroke-width="1.3"/>
<path d="M348.1,509.775 Q352,512.525 355.9,509.775" fill="none" stroke="#1c1c1c" stroke-width="1.3"/>
<line x1="336.3" y1="493.5" x2="369" y2="493.5" stroke="#333" stroke-width="1"/>
<line x1="364.6" y1="423.6" x2="356.6" y2="452.5" stroke="#1c1c1c" stroke-width="1.3" stroke-dasharray="3.5,1.5"/>
<polygon points="352.8,466 352.2,451.3 360.9,453.7" fill="#1c1c1c"/>
<line x1="306.5" y1="338.7" x2="306.5" y2="381.6" stroke="#8a8a8a" stroke-width="1"/>
<line x1="362.5" y1="338.7" x2="362.5" y2="455" stroke="#8a8a8a" stroke-width="1"/>
<line x1="306.5" y1="342.5" x2="325" y2="342.5" stroke="#262626" stroke-width="1.3"/>
<polygon points="306.5,342.6 321.5,338.4 320.5,342.6 321.5,346.9" fill="#262626"/>
<line x1="344.6" y1="342.5" x2="362" y2="342.5" stroke="#262626" stroke-width="1.3"/>
<polygon points="362.0,342.6 347.0,338.4 348.0,342.6 347.0,346.9" fill="#262626"/>
<text x="319.5" y="334.2" font-size="22" fill="#000" stroke="#000" stroke-width="0.3" textLength="31.5" lengthAdjust="spacingAndGlyphs">OL</text>
<line x1="336.5" y1="363.7" x2="336.5" y2="380.8" stroke="#8a8a8a" stroke-width="1"/>
<line x1="313.3" y1="368.5" x2="336" y2="368.5" stroke="#262626" stroke-width="1.3"/>
<polygon points="336.0,368.2 321.0,363.9 322.0,368.2 321.0,372.4" fill="#262626"/>
<line x1="362.5" y1="368.5" x2="387.6" y2="368.5" stroke="#262626" stroke-width="1.3"/>
<polygon points="362.5,368.2 377.5,363.9 376.5,368.2 377.5,372.4" fill="#262626"/>
<text x="369" y="360.5" font-size="23" fill="#000" stroke="#000" stroke-width="0.3" textLength="28.5" lengthAdjust="spacingAndGlyphs">HL</text>
<line x1="222" y1="385.5" x2="297.8" y2="385.5" stroke="#8a8a8a" stroke-width="1"/>
<line x1="222.4" y1="602.5" x2="298" y2="602.5" stroke="#333" stroke-width="1.2"/>
<line x1="226.5" y1="385" x2="226.5" y2="476.9" stroke="#262626" stroke-width="1.3"/>
<line x1="226.5" y1="512.8" x2="226.5" y2="601.5" stroke="#262626" stroke-width="1.3"/>
<polygon points="226.7,385.0 222.4,400.0 226.7,399.0 230.9,400.0" fill="#262626"/>
<polygon points="226.7,601.5 222.4,586.5 226.7,587.5 230.9,586.5" fill="#262626"/>
<text x="191.5" y="502.5" font-size="23" fill="#000" stroke="#000" stroke-width="0.3" textLength="51" lengthAdjust="spacingAndGlyphs">ØPD</text>
<line x1="272" y1="483.5" x2="298" y2="483.5" stroke="#555" stroke-width="1.3"/>
<line x1="272" y1="503.5" x2="298" y2="503.5" stroke="#8a8a8a" stroke-width="1"/>
<line x1="276.5" y1="456.5" x2="276.5" y2="483" stroke="#999" stroke-width="1.1"/>
<polygon points="276.6,483.0 272.4,468.0 276.6,469.0 280.9,468.0" fill="#262626"/>
<line x1="276.5" y1="503" x2="276.5" y2="531.2" stroke="#999" stroke-width="1.1"/>
<polygon points="276.6,503.0 272.4,518.0 276.6,517.0 280.9,518.0" fill="#262626"/>
<text x="247.5" y="502.5" font-size="23" fill="#000" stroke="#000" stroke-width="0.3" textLength="31.5" lengthAdjust="spacingAndGlyphs">Ød</text>
<line x1="368" y1="461.5" x2="407.2" y2="461.5" stroke="#333" stroke-width="1.1"/>
<line x1="368" y1="522.5" x2="407.2" y2="522.5" stroke="#333" stroke-width="1.1"/>
<line x1="399.5" y1="461.6" x2="399.5" y2="477" stroke="#262626" stroke-width="1.3"/>
<line x1="399.5" y1="503" x2="399.5" y2="521" stroke="#262626" stroke-width="1.3"/>
<polygon points="399.3,461.6 395.1,476.6 399.3,475.6 403.6,476.6" fill="#262626"/>
<polygon points="399.3,521.0 395.1,506.0 399.3,507.0 403.6,506.0" fill="#262626"/>
<text x="374" y="499.7" font-size="23" fill="#000" stroke="#000" stroke-width="0.3" textLength="52.5" lengthAdjust="spacingAndGlyphs">ØHD</text>
<text x="373" y="418" font-size="18" fill="#000" stroke="#000" stroke-width="0.3" textLength="34.5" lengthAdjust="spacingAndGlyphs">Cap</text>
<text x="365.2" y="433.7" font-size="18" fill="#000" stroke="#000" stroke-width="0.3" textLength="52.5" lengthAdjust="spacingAndGlyphs">Screw</text>
<line x1="307.5" y1="607.6" x2="307.5" y2="626" stroke="#8a8a8a" stroke-width="1"/>
<line x1="336.5" y1="609" x2="336.5" y2="626" stroke="#8a8a8a" stroke-width="1"/>
<line x1="278.8" y1="622.5" x2="307" y2="622.5" stroke="#262626" stroke-width="1.3"/>
<polygon points="307.0,622.0 292.0,617.8 293.0,622.0 292.0,626.2" fill="#262626"/>
<line x1="336.6" y1="621.5" x2="365.2" y2="621.5" stroke="#262626" stroke-width="1.3"/>
<polygon points="336.6,621.5 351.6,617.2 350.6,621.5 351.6,625.8" fill="#262626"/>
<text x="306.5" y="648" font-size="23" fill="#000" stroke="#000" stroke-width="0.3" textLength="37" lengthAdjust="spacingAndGlyphs">FW</text>
<text x="362" y="647.3" font-size="23" font-weight="bold" fill="#3b40bf" stroke="#3b40bf" stroke-width="0.3" textLength="73" lengthAdjust="spacingAndGlyphs">Type 3</text>
</svg></body></html>
